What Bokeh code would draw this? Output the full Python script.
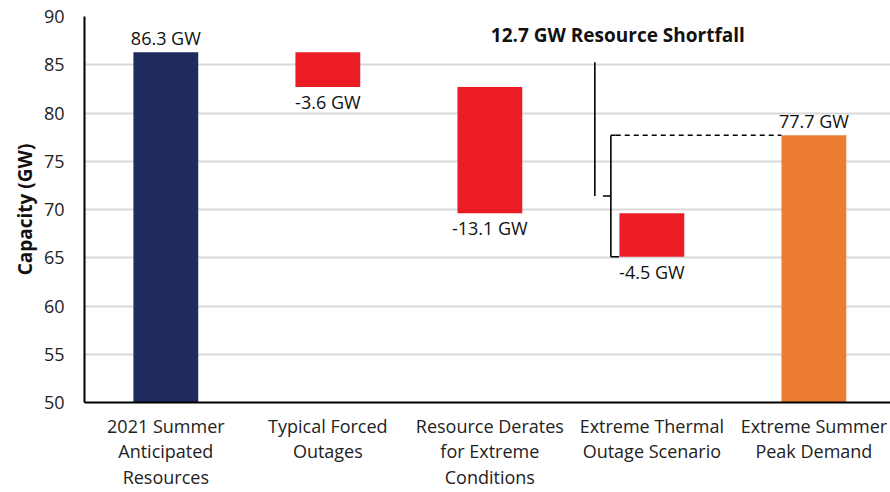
from bokeh.plotting import figure
from bokeh.models import Range1d, FixedTicker, ColumnDataSource, Title
from bokeh.core.properties import value
from bokeh.embed import file_html
from bokeh.resources import INLINE

# Waterfall steps: totals start from zero, deltas hang from the running level
categories = [
    "2021 Summer\nAnticipated\nResources",
    "Typical Forced\nOutages",
    "Resource Derates\nfor Extreme\nConditions",
    "Extreme Thermal\nOutage Scenario",
    "Extreme Summer\nPeak Demand",
]
steps = [86.3, -3.6, -13.1, -4.5, 77.7]
is_total = [True, False, False, False, True]
bar_colors = ["#1F2A5E", "#EC1C24", "#EC1C24", "#EC1C24", "#ED7D31"]
y_ticks = [50, 55, 60, 65, 70, 75, 80, 85, 90]
y_title = "Capacity (GW)"
shortfall_text = "12.7 GW Resource Shortfall"

FONT = "Open Sans"

xs = list(range(len(categories)))
bottoms, tops = [], []
level = 0.0
for s, tot in zip(steps, is_total):
    if tot:
        bottoms.append(0.0)
        tops.append(s)
        level = s
    else:
        tops.append(level)
        level = round(level + s, 2)
        bottoms.append(level)

labels = [f"{s:.1f} GW" for s in steps]

p = figure(
    width=890, height=492,
    x_range=Range1d(-0.502, 4.473), y_range=Range1d(50, 90),
    output_backend="svg", toolbar_location=None,
    min_border_left=84, min_border_right=0, min_border_top=16, min_border_bottom=89,
)
p.outline_line_color = None
p.background_fill_color = "white"
p.border_fill_color = "white"

p.vbar(x=xs, bottom=bottoms, top=tops, width=0.4, fill_color=bar_colors, line_color=None)

# value labels: above totals, below deltas
up = ColumnDataSource(dict(
    x=[x for x, t in zip(xs, is_total) if t],
    y=[v for v, t in zip(tops, is_total) if t],
    t=[l for l, t in zip(labels, is_total) if t],
))
down = ColumnDataSource(dict(
    x=[x for x, t in zip(xs, is_total) if not t],
    y=[v for v, t in zip(bottoms, is_total) if not t],
    t=[l for l, t in zip(labels, is_total) if not t],
))
p.text(x="x", y="y", text="t", source=up, text_align="center", text_baseline="bottom",
       y_offset=-2, text_font=value(FONT), text_font_size="18px", text_color="#111111")
p.text(x="x", y="y", text="t", source=down, text_align="center", text_baseline="top",
       y_offset=3, text_font=value(FONT), text_font_size="18px", text_color="#111111")

# shortfall bracket between the last delta bar and peak demand
low = bottoms[3]
high = tops[4]
mid = (low + high) / 2
bx = 3 - 0.253
p.segment(x0=[bx, bx, bx, bx - 0.049], y0=[low, low, high, mid],
          x1=[bx, bx + 0.05, bx + 0.03, bx], y1=[high, low, high, mid],
          line_color="black", line_width=1.6)
p.segment(x0=[bx + 0.03], y0=[high], x1=[4 - 0.2], y1=[high],
          line_color="black", line_width=1.4, line_dash="5 4")
# leader from the heading down to the bracket
p.segment(x0=[bx - 0.099], y0=[85.25], x1=[bx - 0.099], y1=[mid],
          line_color="black", line_width=1.6)
p.text(x=[2.79], y=[88.05], text=[shortfall_text], text_align="center", text_baseline="middle",
       text_font=value(FONT), text_font_size="19px", text_font_style="bold", text_color="#111111")

# vertical axis title in the left margin, nudged below the frame centre
p.add_layout(Title(text=y_title, align="center", offset=20, standoff=6,
                   text_font=FONT, text_font_size="19px", text_font_style="bold",
                   text_color="#111111"), "left")

# axes
p.yaxis.ticker = FixedTicker(ticks=y_ticks)
p.yaxis.major_label_text_font = FONT
p.yaxis.major_label_text_font_size = "18px"
p.yaxis.major_label_text_color = "#222222"
p.yaxis.major_label_standoff = 14
p.yaxis.major_tick_line_color = None
p.yaxis.minor_tick_line_color = None
p.yaxis.axis_line_color = "black"
p.yaxis.axis_line_width = 2

p.xaxis.ticker = FixedTicker(ticks=xs)
p.xaxis.major_label_overrides = {i: c for i, c in zip(xs, categories)}
p.xaxis.major_label_text_font = FONT
p.xaxis.major_label_text_font_size = "18px"
p.xaxis.major_label_text_color = "#222222"
p.xaxis.major_label_text_line_height = 1.08
p.xaxis.major_label_standoff = 5
p.xaxis.major_tick_line_color = None
p.xaxis.minor_tick_line_color = None
p.xaxis.axis_line_color = "black"
p.xaxis.axis_line_width = 2

p.xgrid.grid_line_color = None
p.ygrid.ticker = FixedTicker(ticks=y_ticks)
p.ygrid.grid_line_color = "#D9D9D9"
p.ygrid.grid_line_width = 2

open("out.html", "w").write(file_html(p, INLINE))
